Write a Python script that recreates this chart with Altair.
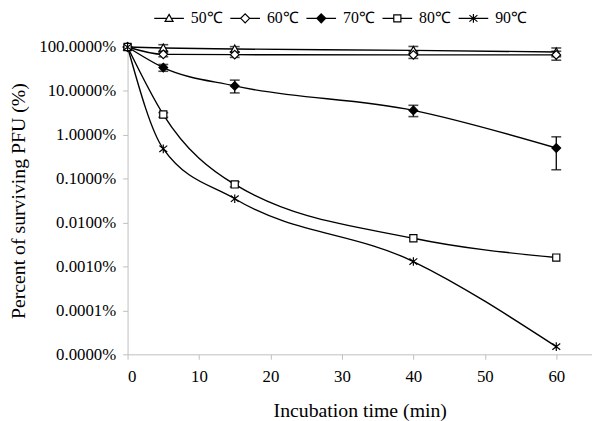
import altair as alt
import pandas as pd

# ---- data ----
times = [0, 5, 15, 40, 60]
series = ["50℃", "60℃", "70℃", "80℃", "90℃"]
v50 = [100, 95, 90, 84, 77]
v60 = [100, 68, 67, 66, 66]
v70 = [100, 34, 13, 3.6, 0.5]
v80 = [100, 2.9, 0.074, 0.0044, 0.0016]
v90 = [100, 0.48, 0.035, 0.0013, 0.000015]

# error bars (series, time, low, high)
err_series = ["50℃", "50℃", "50℃", "50℃", "60℃", "60℃", "60℃", "60℃",
              "70℃", "70℃", "70℃", "70℃", "80℃", "80℃"]
err_time = [5, 15, 40, 60, 5, 15, 40, 60, 5, 15, 40, 60, 5, 15]
err_low = [80, 78, 70, 60, 60, 58, 55, 50, 28, 9, 2.6, 0.16, 2.5, 0.065]
err_high = [113, 102, 103, 95, 76, 76, 78, 80, 40, 17.6, 4.7, 0.9, 3.2, 0.085]

y_ticks = [100, 10, 1, 0.1, 0.01, 0.001, 0.0001, 0.00001]
x_ticks = [0, 10, 20, 30, 40, 50, 60]

# ---- marker shapes ----
marker_paths = [
    "M0,-1L1,0.8L-1,0.8Z",
    "M0,-1.1L1.1,0L0,1.1L-1.1,0Z",
    "M0,-1.1L1.1,0L0,1.1L-1.1,0Z",
    "M-0.9,-0.9L0.9,-0.9L0.9,0.9L-0.9,0.9Z",
    "M0,-1.1L0,1.1M-1,-0.8L1,0.8M-1,0.8L1,-0.8",
]
legend_paths = [
    "M-1,0L-0.15,0M0.15,0L1,0M0,-0.27L0.27,0.21L-0.27,0.21Z",
    "M-1,0L-0.3,0M0.3,0L1,0M0,-0.3L0.3,0L0,0.3L-0.3,0Z",
    "M-1,0L-0.3,0M0.3,0L1,0M0,-0.3L0.3,0L0,0.3L-0.3,0Z",
    "M-1,0L-0.24,0M0.24,0L1,0M-0.24,-0.24L0.24,-0.24L0.24,0.24L-0.24,0.24Z",
    "M-1,0L1,0M0,-0.3L0,0.3M-0.27,-0.22L0.27,0.22M-0.27,0.22L0.27,-0.22",
]
fills = ["white", "white", "black", "white", "white"]
strokes = ["black", "black", "black", "black", "black"]

rows = []
for name, vals in zip(series, [v50, v60, v70, v80, v90]):
    for t, v in zip(times, vals):
        rows.append({"series": name, "time": t, "value": v})
df = pd.DataFrame(rows)
edf = pd.DataFrame({"series": err_series, "time": err_time, "lo": err_low, "hi": err_high})

FONT = "Liberation Serif"
AXC = "#bfbfbf"

x_enc = alt.X("time:Q", scale=alt.Scale(domain=[0, 65], nice=False),
              axis=alt.Axis(values=x_ticks, title="Incubation time (min)", grid=False,
                            domainColor=AXC, tickColor=AXC, tickSize=5,
                            labelFont=FONT, labelFontSize=17, labelColor="black",
                            labelPadding=10, titleFont=FONT, titleFontSize=20,
                            titleFontWeight="normal", titleColor="black", titlePadding=16))
y_scale = alt.Scale(type="log", domain=[0.00001, 100], nice=False)
y_enc = alt.Y("value:Q", scale=y_scale,
              axis=alt.Axis(values=y_ticks, labelExpr="format(datum.value, '.4f') + '%'",
                            title="Percent of surviving PFU (%)", grid=False,
                            domainColor=AXC, tickColor=AXC, tickSize=5,
                            labelFont=FONT, labelFontSize=17, labelColor="black",
                            labelPadding=7, titleFont=FONT, titleFontSize=20,
                            titleFontWeight="normal", titleColor="black", titlePadding=10))

base = alt.Chart(df)

lines = base.mark_line(interpolate="monotone", color="black", strokeWidth=1.4).encode(
    x=x_enc, y=y_enc, detail="series:N")

ebase = alt.Chart(edf)
rules = ebase.mark_rule(color="black", strokeWidth=1.3).encode(
    x="time:Q", y=alt.Y("lo:Q", scale=y_scale), y2="hi:Q")
caps_lo = ebase.mark_tick(orient="horizontal", size=10, thickness=1.6, color="black").encode(
    x="time:Q", y=alt.Y("lo:Q", scale=y_scale))
caps_hi = ebase.mark_tick(orient="horizontal", size=10, thickness=1.6, color="black").encode(
    x="time:Q", y=alt.Y("hi:Q", scale=y_scale))

points = base.mark_point(size=64, stroke="black", strokeWidth=1.2, opacity=1, filled=False).encode(
    x="time:Q", y=alt.Y("value:Q", scale=y_scale),
    shape=alt.Shape("series:N", scale=alt.Scale(domain=series, range=marker_paths), legend=None),
    fill=alt.Fill("series:N", scale=alt.Scale(domain=series, range=fills), legend=None),
)

legend_cfg = alt.Legend(title=None, orient="none", direction="horizontal", legendX=26, legendY=-45,
                        symbolSize=900, symbolStrokeWidth=1.2, symbolStrokeColor="black",
                        symbolOpacity=1, labelFont=FONT, labelFontSize=16, labelColor="black",
                        labelOffset=6, columnPadding=5, labelBaseline="middle")
legend_layer = base.mark_point(opacity=0, filled=False).encode(
    x="time:Q", y=alt.Y("value:Q", scale=y_scale),
    shape=alt.Shape("series:N", scale=alt.Scale(domain=series, range=legend_paths), legend=legend_cfg),
    fill=alt.Fill("series:N", scale=alt.Scale(domain=series, range=fills), legend=legend_cfg),
    stroke=alt.Stroke("series:N", scale=alt.Scale(domain=series, range=strokes), legend=legend_cfg),
)

chart = alt.layer(lines, rules, caps_lo, caps_hi, points, legend_layer).resolve_scale(
    shape="independent", fill="independent", stroke="independent"
).properties(
    width=470, height=311,
    autosize=alt.AutoSizeParams(type="none"),
    padding={"left": 121, "top": 37, "right": 0, "bottom": 65},
).configure_view(stroke=None).configure_legend(
    labelFont=FONT, labelFontSize=16, labelColor="black"
)

chart.save("out.html", embed_options={"renderer": "svg", "actions": False})
